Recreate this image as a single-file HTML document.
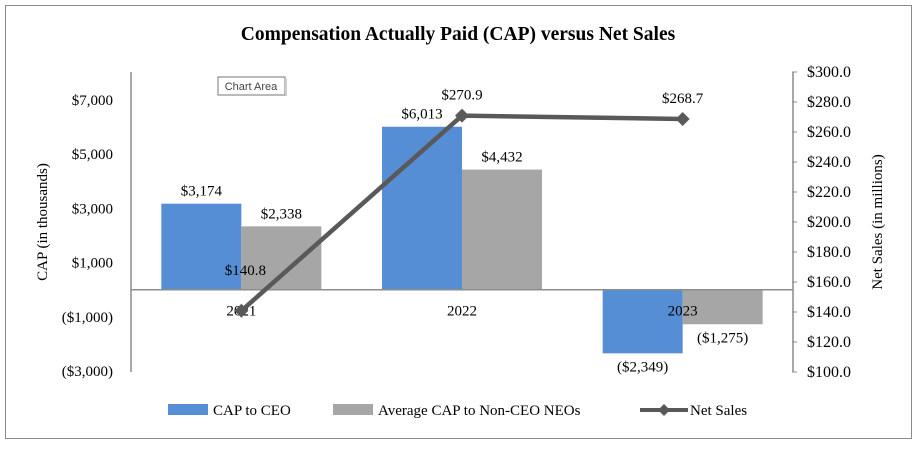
<!DOCTYPE html>
<html><head><meta charset="utf-8"><style>
body{margin:0;background:#fff;}
svg{display:block;font-family:"Liberation Serif",serif;}
</style></head><body>
<svg id="c" width="917" height="449">
<rect x="5.5" y="5.5" width="906" height="433" fill="#fff" stroke="#8c8c8c"/>
<text x="458" y="40" text-anchor="middle" font-size="19.5" font-weight="bold">Compensation Actually Paid (CAP) versus Net Sales</text>
<g><rect x="218" y="77" width="67" height="18" fill="#fff" stroke="#777"/><rect x="285" y="79" width="2" height="17" fill="#ccc"/><text x="251" y="90" text-anchor="middle" font-size="11" font-family="Liberation Sans,sans-serif" fill="#444">Chart Area</text></g>
<text transform="translate(47,222) rotate(-90)" text-anchor="middle" font-size="15">CAP (in thousands)</text>
<text transform="translate(882,222) rotate(-90)" text-anchor="middle" font-size="15">Net Sales (in millions)</text>
<g id="plot"></g>
<g>
<rect x="168" y="404" width="40" height="11" fill="#558ed5"/>
<text x="213" y="415" font-size="15">CAP to CEO</text>
<rect x="333" y="404" width="40" height="11" fill="#a6a6a6"/>
<text x="378" y="415" font-size="15">Average CAP to Non-CEO NEOs</text>
<line x1="640" y1="410" x2="688" y2="410" stroke="#595959" stroke-width="4"/>
<path d="M664 404 L670 410 L664 416 L658 410Z" fill="#595959"/>
<text x="690" y="415" font-size="15">Net Sales</text>
</g>
</svg>
<script>
const categories=["2021","2022","2023"];
const capCEO=[3174,6013,-2349];
const capNEO=[2338,4432,-1275];
const netSales=[140.8,270.9,268.7];
const leftTicks=[7000,5000,3000,1000,-1000,-3000];
const rightTicks=[300,280,260,240,220,200,180,160,140,120,100];
const NS="http://www.w3.org/2000/svg";
const g=document.getElementById('plot');
const X0=131,X1=793,Y0=72,Y1=372;
const yL=v=>289.7-v*0.0271;
const yR=v=>Y1-(v-100)*(Y1-Y0)/200;
const cw=(X1-X0)/categories.length;
const xc=i=>X0+cw*(i+0.5);
function el(t,a,txt){const e=document.createElementNS(NS,t);for(const k in a)e.setAttribute(k,a[k]);if(txt!=null)e.textContent=txt;g.appendChild(e);return e;}
const fmt=v=>v<0?"($"+Math.abs(v).toLocaleString('en-US')+")":"$"+v.toLocaleString('en-US');
let e;
e=el('line',{x1:X0,y1:Y0,x2:X0,y2:Y1,stroke:'#8c8c8c','stroke-width':1.5});


leftTicks.forEach(v=>{e=el('text',{x:X0-18,y:yL(v)+5,'text-anchor':'end','font-size':15},fmt(v));

});
e=el('line',{x1:X1,y1:Y0,x2:X1,y2:Y1,stroke:'#8c8c8c','stroke-width':1.5});


rightTicks.forEach(v=>{el('line',{x1:X1-1,x2:X1+4,y1:yR(v),y2:yR(v),stroke:'#8c8c8c','stroke-width':1});
e=el('text',{x:X1+14,y:yR(v)+5,'font-size':16},"$"+v.toFixed(1));

});
const bw=80;
categories.forEach((c,i)=>{
 const y0=yL(0);
 [[capCEO[i],'#558ed5',-bw,'bar-ceo-'+c],[capNEO[i],'#a6a6a6',0,'bar-neo-'+c]].forEach(([v,col,off,nm])=>{
  const y=yL(v);
  e=el('rect',{x:xc(i)+off,y:Math.min(y,y0),width:bw,height:Math.abs(y-y0),fill:col});
  
  
  const ly=v>=0?y-8:y+18;
  e=el('text',{x:xc(i)+off+bw/2,y:ly,'text-anchor':'middle','font-size':15},fmt(v));
  
  
 });
});
e=el('line',{x1:X0,y1:yL(0),x2:X1,y2:yL(0),stroke:'#8c8c8c','stroke-width':1.5});


categories.forEach((c,i)=>{e=el('text',{x:xc(i),y:yL(0)+26,'text-anchor':'middle','font-size':15},c);

});
e=el('polyline',{points:netSales.map((v,i)=>xc(i)+','+yR(v)).join(' '),fill:'none',stroke:'#595959','stroke-width':4.5});


netSales.forEach((v,i)=>{const x=xc(i),y=yR(v);
 e=el('path',{d:`M${x} ${y-7}L${x+7} ${y}L${x} ${y+7}L${x-7} ${y}Z`,fill:'#595959'});
 
 
 const lx=i===0?x+4:x, ly=i===0?y-36:y-16;
 e=el('text',{x:lx,y:ly,'text-anchor':'middle','font-size':15},"$"+v.toFixed(1));
 
 
});
</script>
</body></html>
